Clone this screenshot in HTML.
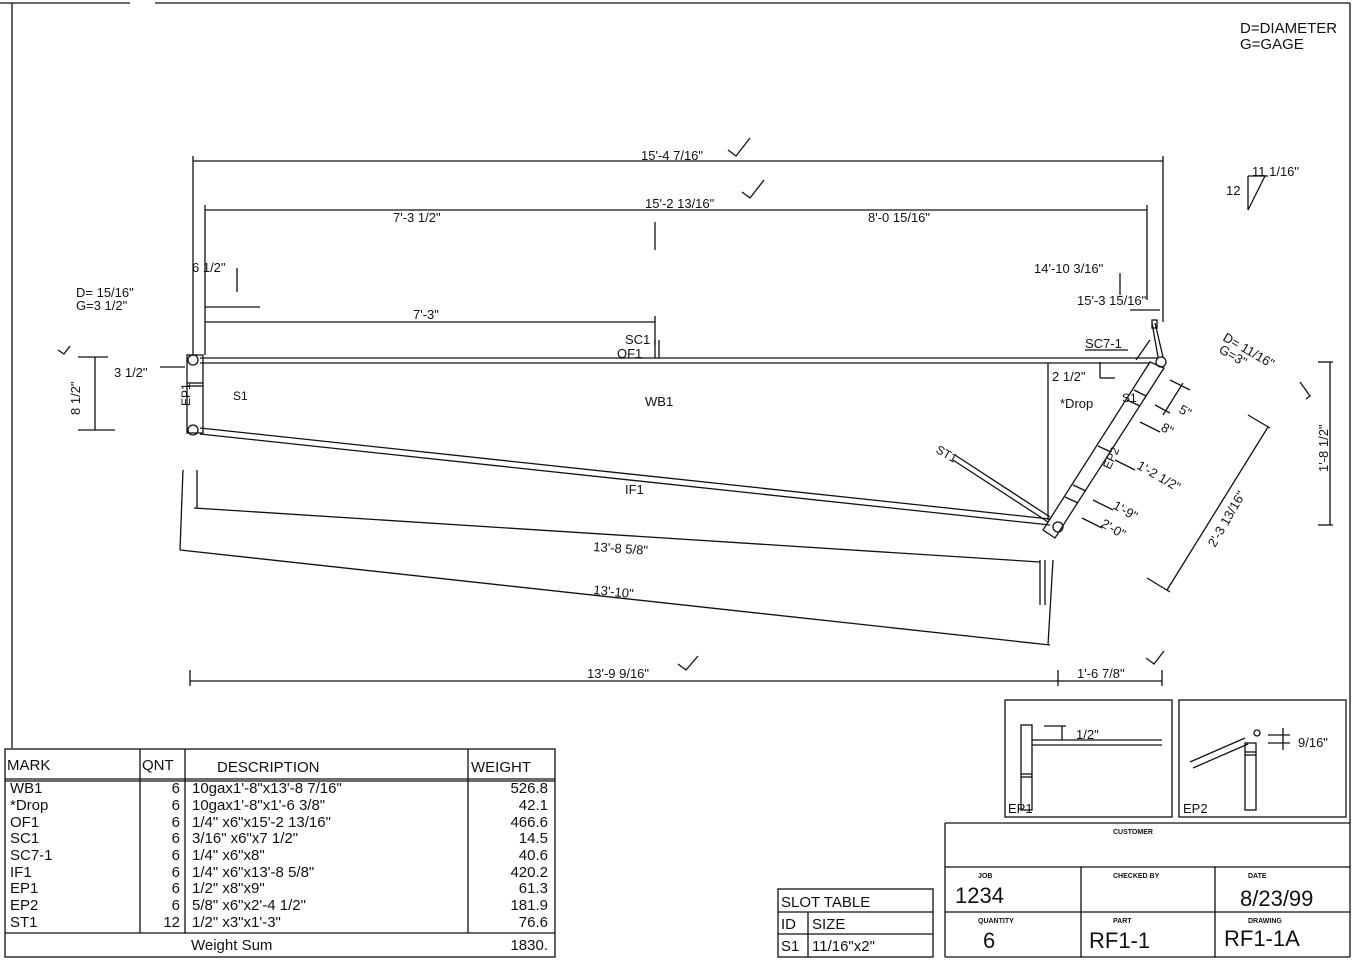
<!DOCTYPE html>
<html><head><meta charset="utf-8"><style>
html,body{margin:0;padding:0;background:#fff}
svg{display:block}
text{font-family:"Liberation Sans",sans-serif;fill:#111}
</style></head><body>
<svg width="1356" height="961" viewBox="0 0 1356 961" xmlns="http://www.w3.org/2000/svg" stroke="#111" stroke-width="1.3" fill="none">
<!-- border -->
<line x1="0" y1="3" x2="130" y2="3"/><line x1="155" y1="3" x2="1350" y2="3"/>
<line x1="12" y1="3" x2="12" y2="748"/>
<line x1="1350" y1="3" x2="1350" y2="957"/>
<g stroke="none" font-size="15">
<text x="1240" y="33">D=DIAMETER</text><text x="1240" y="49">G=GAGE</text>
</g>
<!-- slope -->
<polyline points="1265,176 1248,210 1248,176"/>
<line x1="1248" y1="176" x2="1268" y2="176"/>
<g stroke="none" font-size="13"><text x="1252" y="176">11 1/16"</text><text x="1226" y="195">12</text></g>

<!-- top dims -->
<line x1="193" y1="161" x2="1163" y2="161"/>
<line x1="193" y1="156" x2="193" y2="355"/><line x1="1163" y1="156" x2="1163" y2="322"/>
<line x1="205" y1="210" x2="1147" y2="210"/>
<line x1="205" y1="205" x2="205" y2="355"/><line x1="1147" y1="205" x2="1147" y2="300"/>
<line x1="655" y1="222" x2="655" y2="250"/>
<line x1="237" y1="268" x2="237" y2="292"/>
<line x1="205" y1="307" x2="260" y2="307"/>
<line x1="205" y1="322" x2="655" y2="322"/><line x1="655" y1="316" x2="655" y2="345"/>
<line x1="1120" y1="273" x2="1120" y2="295"/>
<line x1="1130" y1="310" x2="1160" y2="310"/>
<path d="M728,150 l8,6 l14,-18"/><path d="M742,192 l8,6 l14,-18"/>
<g stroke="none" font-size="13">
<text x="641" y="160">15'-4 7/16"</text>
<text x="645" y="208">15'-2 13/16"</text>
<text x="393" y="222">7'-3 1/2"</text>
<text x="868" y="222">8'-0 15/16"</text>
<text x="192" y="272">6 1/2"</text>
<text x="413" y="319">7'-3"</text>
<text x="76" y="297">D= 15/16"</text><text x="76" y="310">G=3 1/2"</text>
<text x="1034" y="273">14'-10 3/16"</text>
<text x="1077" y="305">15'-3 15/16"</text>
<text x="625" y="344">SC1</text><text x="617" y="358">OF1</text>
<text x="1085" y="348">SC7-1</text>
<text x="1052" y="381">2 1/2"</text>
<text x="1060" y="408">*Drop</text>
<text x="645" y="406">WB1</text>
<text x="625" y="494">IF1</text>
<text x="114" y="377">3 1/2"</text>
</g>
<!-- left vertical dims -->
<line x1="78" y1="357" x2="108" y2="357"/><line x1="78" y1="430" x2="115" y2="430"/>
<line x1="95" y1="357" x2="95" y2="430"/>
<line x1="160" y1="367" x2="185" y2="367"/>
<path d="M58,350 l6,4 l6,-8"/>
<text x="80" y="415" transform="rotate(-90 80 415)" stroke="none" font-size="13">8 1/2"</text>

<!-- truss -->
<line x1="200" y1="358" x2="1158" y2="358"/><line x1="200" y1="363" x2="1150" y2="363"/>
<rect x="187" y="355" width="16" height="78"/>
<line x1="187" y1="383" x2="203" y2="383"/><line x1="187" y1="386" x2="203" y2="386"/>
<circle cx="193" cy="360" r="5"/><circle cx="193" cy="430" r="5"/>
<text x="190" y="406" transform="rotate(-90 190 406)" stroke="none" font-size="12">EP1</text>
<text x="233" y="400" stroke="none" font-size="12">S1</text>
<line x1="200" y1="428" x2="1050" y2="519"/><line x1="200" y1="434" x2="1050" y2="525"/>
<line x1="1048" y1="363" x2="1048" y2="520"/>
<line x1="655" y1="340" x2="655" y2="358"/><line x1="659" y1="340" x2="659" y2="358"/>
<line x1="1100" y1="362" x2="1100" y2="378"/><line x1="1100" y1="378" x2="1115" y2="378"/>
<text x="1122" y="402" stroke="none" font-size="12">S1</text>
<!-- EP2 -->
<polygon points="1150,362 1164,368 1055,538 1043,530"/>
<line x1="1134" y1="390" x2="1146" y2="396"/><line x1="1127" y1="400" x2="1140" y2="406"/>
<line x1="1098" y1="446" x2="1111" y2="452"/><line x1="1073" y1="485" x2="1086" y2="491"/>
<line x1="1065" y1="497" x2="1078" y2="503"/>
<circle cx="1161" cy="362" r="5"/><circle cx="1058" cy="527" r="5"/>
<line x1="1155" y1="323" x2="1163" y2="357"/><line x1="1152" y1="323" x2="1158" y2="357"/>
<rect x="1152" y="320" width="5" height="8"/>
<line x1="1136" y1="360" x2="1150" y2="340"/>
<line x1="1085" y1="350" x2="1128" y2="350"/>
<text x="1110" y="470" transform="rotate(-65 1110 470)" stroke="none" font-size="12">EP2</text>
<!-- ST1 -->
<line x1="955" y1="455" x2="1050" y2="517"/><line x1="953" y1="460" x2="1048" y2="522"/>
<text x="935" y="452" transform="rotate(30 935 452)" stroke="none" font-size="12">ST1</text>
<!-- EP2 dims -->
<line x1="1183" y1="383" x2="1163" y2="415"/><line x1="1170" y1="380" x2="1190" y2="390"/>
<line x1="1155" y1="405" x2="1170" y2="413"/>
<line x1="1140" y1="422" x2="1160" y2="432"/>
<line x1="1115" y1="460" x2="1135" y2="470"/>
<line x1="1093" y1="500" x2="1113" y2="510"/>
<line x1="1082" y1="518" x2="1102" y2="528"/>
<g stroke="none" font-size="13">
<text x="1178" y="412" transform="rotate(30 1178 412)">5"</text>
<text x="1160" y="430" transform="rotate(30 1160 430)">8"</text>
<text x="1136" y="468" transform="rotate(30 1136 468)">1'-2 1/2"</text>
<text x="1112" y="508" transform="rotate(30 1112 508)">1'-9"</text>
<text x="1100" y="526" transform="rotate(30 1100 526)">2'-0"</text>
<text x="1222" y="340" transform="rotate(30 1222 340)">D= 11/16"</text>
<text x="1218" y="352" transform="rotate(30 1218 352)">G=3"</text>
<text x="1215" y="548" transform="rotate(-60 1215 548)">2'-3 13/16"</text>
<text x="1328" y="472" transform="rotate(-90 1328 472)">1'-8 1/2"</text>
</g>
<line x1="1268" y1="427" x2="1167" y2="590"/>
<line x1="1248" y1="415" x2="1270" y2="428"/><line x1="1147" y1="578" x2="1170" y2="592"/>
<line x1="1330" y1="362" x2="1330" y2="525"/>
<line x1="1318" y1="362" x2="1333" y2="362"/><line x1="1318" y1="525" x2="1333" y2="525"/>
<path d="M1300,382 l10,14 l-4,3"/>

<!-- bottom slanted dims -->
<line x1="197" y1="470" x2="197" y2="508"/>
<line x1="194" y1="508" x2="1040" y2="562"/>
<line x1="1040" y1="560" x2="1040" y2="605"/><line x1="1045" y1="560" x2="1045" y2="605"/>
<line x1="183" y1="470" x2="180" y2="550"/>
<line x1="180" y1="550" x2="1050" y2="645"/>
<line x1="1053" y1="560" x2="1048" y2="645"/>
<g stroke="none" font-size="13">
<text x="593" y="551" transform="rotate(4 593 551)">13'-8 5/8"</text>
<text x="593" y="594" transform="rotate(6 593 594)">13'-10"</text>
<text x="587" y="678">13'-9 9/16"</text>
<text x="1077" y="678">1'-6 7/8"</text>
</g>
<line x1="190" y1="681" x2="1162" y2="681"/>
<line x1="190" y1="670" x2="190" y2="686"/><line x1="1058" y1="670" x2="1058" y2="686"/><line x1="1162" y1="670" x2="1162" y2="686"/>
<path d="M678,664 l8,6 l12,-14"/><path d="M1146,658 l8,6 l10,-13"/>

<!-- parts table -->
<rect x="5" y="749" width="550" height="208"/>
<line x1="5" y1="779" x2="555" y2="779"/><line x1="5" y1="781" x2="555" y2="781"/>
<line x1="5" y1="933" x2="555" y2="933"/>
<line x1="140" y1="749" x2="140" y2="933"/><line x1="185" y1="749" x2="185" y2="933"/><line x1="468" y1="749" x2="468" y2="933"/>
<g stroke="none" font-size="15">
<text x="7" y="770">MARK</text><text x="142" y="770">QNT</text><text x="217" y="772">DESCRIPTION</text><text x="471" y="772">WEIGHT</text>
<text x="10" y="793">WB1</text><text x="10" y="810">*Drop</text><text x="10" y="827">OF1</text><text x="10" y="843">SC1</text><text x="10" y="860">SC7-1</text><text x="10" y="877">IF1</text><text x="10" y="893">EP1</text><text x="10" y="910">EP2</text><text x="10" y="927">ST1</text>
</g>
<g stroke="none" font-size="15" text-anchor="end">
<text x="180" y="793">6</text><text x="180" y="810">6</text><text x="180" y="827">6</text><text x="180" y="843">6</text><text x="180" y="860">6</text><text x="180" y="877">6</text><text x="180" y="893">6</text><text x="180" y="910">6</text><text x="180" y="927">12</text>
<text x="548" y="793">526.8</text><text x="548" y="810">42.1</text><text x="548" y="827">466.6</text><text x="548" y="843">14.5</text><text x="548" y="860">40.6</text><text x="548" y="877">420.2</text><text x="548" y="893">61.3</text><text x="548" y="910">181.9</text><text x="548" y="927">76.6</text>
<text x="548" y="950">1830.</text>
</g>
<g stroke="none" font-size="15">
<text x="192" y="793">10gax1'-8"x13'-8 7/16"</text><text x="192" y="810">10gax1'-8"x1'-6 3/8"</text><text x="192" y="827">1/4" x6"x15'-2 13/16"</text><text x="192" y="843">3/16" x6"x7 1/2"</text><text x="192" y="860">1/4" x6"x8"</text><text x="192" y="877">1/4" x6"x13'-8 5/8"</text><text x="192" y="893">1/2" x8"x9"</text><text x="192" y="910">5/8" x6"x2'-4 1/2"</text><text x="192" y="927">1/2" x3"x1'-3"</text>
<text x="191" y="950">Weight Sum</text>
</g>

<!-- slot table -->
<rect x="778" y="889" width="155" height="68"/>
<line x1="778" y1="912" x2="933" y2="912"/><line x1="778" y1="934" x2="933" y2="934"/>
<line x1="808" y1="912" x2="808" y2="957"/>
<g stroke="none" font-size="15">
<text x="781" y="907">SLOT TABLE</text><text x="781" y="929">ID</text><text x="812" y="929">SIZE</text>
<text x="781" y="951">S1</text><text x="812" y="951">11/16"x2"</text>
</g>

<!-- detail boxes -->
<rect x="1005" y="700" width="167" height="117"/>
<rect x="1179" y="700" width="167" height="117"/>
<rect x="1021" y="725" width="11" height="85"/>
<line x1="1021" y1="774" x2="1032" y2="774"/><line x1="1021" y1="777" x2="1032" y2="777"/>
<line x1="1032" y1="740" x2="1162" y2="740"/><line x1="1032" y1="745" x2="1162" y2="745"/>
<line x1="1044" y1="726" x2="1066" y2="726"/><line x1="1062" y1="726" x2="1062" y2="740"/>
<rect x="1245" y="743" width="11" height="67"/>
<line x1="1245" y1="752" x2="1256" y2="752"/><line x1="1245" y1="755" x2="1256" y2="755"/>
<line x1="1190" y1="762" x2="1245" y2="738"/><line x1="1193" y1="768" x2="1248" y2="744"/>
<circle cx="1257" cy="733" r="3"/>
<line x1="1268" y1="735" x2="1290" y2="735"/><line x1="1268" y1="743" x2="1290" y2="743"/><line x1="1283" y1="728" x2="1283" y2="750"/>
<g stroke="none" font-size="13">
<text x="1076" y="739">1/2"</text><text x="1298" y="747">9/16"</text>
<text x="1008" y="813">EP1</text><text x="1183" y="813">EP2</text>
</g>

<!-- title block -->
<line x1="945" y1="823" x2="1350" y2="823"/>
<line x1="945" y1="823" x2="945" y2="957"/>
<line x1="945" y1="867" x2="1350" y2="867"/><line x1="945" y1="912" x2="1350" y2="912"/>
<line x1="945" y1="957" x2="1350" y2="957"/>
<line x1="1081" y1="867" x2="1081" y2="957"/><line x1="1215" y1="867" x2="1215" y2="957"/>
<g stroke="none" font-size="7" font-weight="bold">
<text x="1113" y="834">CUSTOMER</text>
<text x="978" y="878">JOB</text><text x="1113" y="878">CHECKED BY</text><text x="1248" y="878">DATE</text>
<text x="978" y="923">QUANTITY</text><text x="1113" y="923">PART</text><text x="1248" y="923">DRAWING</text>
</g>
<g stroke="none" font-size="22">
<text x="955" y="903">1234</text><text x="1240" y="906">8/23/99</text>
<text x="983" y="948">6</text><text x="1089" y="948">RF1-1</text><text x="1224" y="946">RF1-1A</text>
</g>
</svg>
</body></html>
